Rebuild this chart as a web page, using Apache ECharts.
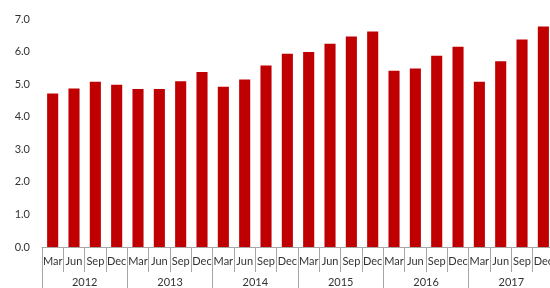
<!DOCTYPE html>
<html><head><meta charset="utf-8">
<script src="https://cdn.jsdelivr.net/npm/echarts@6/dist/echarts.min.js"></script>
<style>html,body{margin:0;padding:0;background:#fff;overflow:hidden;width:550px;height:288px}#c{width:556px;height:288px}</style>
</head><body><div id="c"></div>
<script>
const months = ["Mar","Jun","Sep","Dec"];
const years = ["2012","2013","2014","2015","2016","2017"];
const categories = [];
years.forEach(y => months.forEach(m => categories.push(m)));
const values = [4.71,4.87,5.07,4.98, 4.85,4.85,5.09,5.37, 4.92,5.14,5.57,5.93, 5.99,6.24,6.46,6.62, 5.41,5.48,5.87,6.15, 5.07,5.70,6.37,6.77];
const yTicks = [0,1,2,3,4,5,6,7];

const font = "Lato, 'Liberation Sans', sans-serif";
const chart = echarts.init(document.getElementById('c'), null, {renderer:'canvas'});
chart.setOption({
  animation:false,
  grid:{left:42,right:0,top:19,bottom:40,containLabel:false},
  xAxis:[{
    type:'category', data:categories, position:'bottom',
    axisLine:{show:true,lineStyle:{color:'#a6a6a6',width:1}},
    axisTick:{show:true,interval:0,length:25,lineStyle:{color:'#a6a6a6'}},
    axisLabel:{interval:0,margin:9,fontSize:11,color:'#333',fontFamily:font}
  },{
    type:'category', data:years, position:'bottom', offset:0,
    axisLine:{show:false},
    axisTick:{show:true,interval:0,length:42,lineStyle:{color:'#a6a6a6'}},
    axisLabel:{interval:0,margin:30,fontSize:11,color:'#333',fontFamily:font}
  }],
  yAxis:{
    type:'value', min:yTicks[0], max:yTicks[yTicks.length-1], interval:1,
    axisLine:{show:false}, axisTick:{show:false}, splitLine:{show:false},
    axisLabel:{margin:12,fontSize:11,color:'#333',fontFamily:font,formatter:v=>v.toFixed(1)}
  },
  series:[{type:'bar',data:values,xAxisIndex:0,barCategoryGap:'48%',itemStyle:{color:'#C00000'}}]
});
</script></body></html>
